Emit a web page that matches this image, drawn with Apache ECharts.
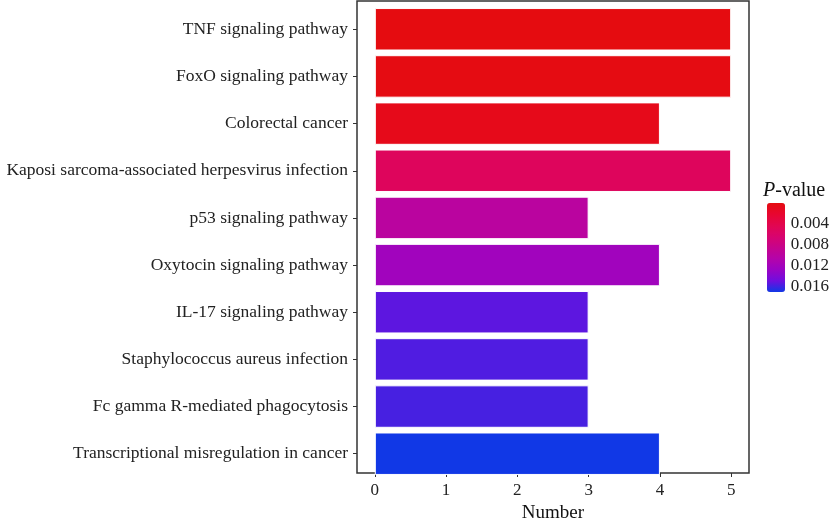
<!DOCTYPE html>
<html>
<head>
<meta charset="utf-8">
<script src="https://cdn.jsdelivr.net/npm/echarts@6/dist/echarts.min.js"></script>
<style>
  html, body { margin: 0; padding: 0; background: #fff; }
  #chart { width: 832px; height: 528px; }
</style>
</head>
<body>
<div id="chart"></div>
<script>
// pathways, top to bottom
const categories = [
  'TNF signaling pathway',
  'FoxO signaling pathway',
  'Colorectal cancer',
  'Kaposi sarcoma-associated herpesvirus infection',
  'p53 signaling pathway',
  'Oxytocin signaling pathway',
  'IL-17 signaling pathway',
  'Staphylococcus aureus infection',
  'Fc gamma R-mediated phagocytosis',
  'Transcriptional misregulation in cancer'
]
const counts = [5, 5, 4, 5, 3, 4, 3, 3, 3, 4]
const pValues = [0.00005, 0.0002, 0.0007, 0.0051, 0.0099, 0.0122, 0.0153, 0.0156, 0.0158, 0.0170]
const xTicks = [0, 1, 2, 3, 4, 5]
const legendTicks = [0.004, 0.008, 0.012, 0.016]

const pMin = Math.min(...pValues)
const pMax = Math.max(...pValues)
const font = 'Liberation Serif'
// red -> blue (like ggplot's Lab gradient)
const gradient = ['#E50C10', '#E80630', '#E20650', '#D8046E', '#C6048C', '#B404AA', '#9A04C4', '#700EDE', '#1138E6']

const chart = echarts.init(document.getElementById('chart'))

const data = counts.map((c, i) => [c, categories[i], pValues[i]])

let option = {
  animation: false,
  textStyle: { fontFamily: font },
  title: {
    text: '{i|P}-value',
    left: 763,
    top: 181,
    padding: 0,
    textStyle: {
      fontFamily: font,
      fontSize: 20,
      fontWeight: 'normal',
      color: '#111',
      rich: {
        i: { fontFamily: font, fontSize: 20, fontStyle: 'italic', color: '#111' }
      }
    }
  },
  grid: [
    // bars area (band expanded like ggplot)
    { left: 357, right: 83, top: 5.7, bottom: 50.7 },
    // panel frame
    { left: 357, right: 83, top: 1, bottom: 46, show: true, borderColor: '#333', borderWidth: 1.5, backgroundColor: 'transparent' },
    // colorbar axis
    { left: 767, top: 203, width: 18, height: 89 }
  ],
  xAxis: [
    { gridIndex: 0, type: 'value', min: -0.25, max: 5.25, show: false },
    {
      gridIndex: 1, type: 'value', min: -0.25, max: 5.25,
      name: 'Number', nameLocation: 'middle', nameGap: 31,
      nameTextStyle: { fontFamily: font, fontSize: 19, color: '#111' },
      axisLine: { show: false },
      splitLine: { show: false },
      axisTick: { show: true, length: 4, lineStyle: { color: '#333', width: 1 }, customValues: xTicks },
      axisLabel: { fontFamily: font, fontSize: 17, color: '#222', margin: 9, customValues: xTicks }
    },
    { gridIndex: 2, type: 'value', show: false }
  ],
  yAxis: [
    {
      gridIndex: 0, type: 'category', data: categories, inverse: true,
      axisLine: { show: false, onZero: false },
      axisTick: { show: true, alignWithLabel: true, length: 4, lineStyle: { color: '#333', width: 1 } },
      axisLabel: { fontFamily: font, fontSize: 17.5, color: '#222', margin: 9 }
    },
    { gridIndex: 1, type: 'value', show: false },
    {
      gridIndex: 2, type: 'value', min: pMin, max: pMax, inverse: true, position: 'right',
      axisLine: { show: false, onZero: false },
      splitLine: { show: false },
      axisTick: { show: true, inside: true, length: 3, lineStyle: { color: '#fff', width: 1 }, customValues: legendTicks },
      axisLabel: { fontFamily: font, fontSize: 17, color: '#222', margin: 7, customValues: legendTicks, formatter: v => v.toFixed(3) }
    },
    {
      gridIndex: 2, type: 'value', min: pMin, max: pMax, inverse: true, position: 'left',
      axisLine: { show: false, onZero: false },
      splitLine: { show: false },
      axisTick: { show: true, inside: true, length: 3, lineStyle: { color: '#fff', width: 1 }, customValues: legendTicks },
      axisLabel: { show: false }
    }
  ],
  visualMap: {
    type: 'continuous',
    seriesIndex: 0,
    dimension: 2,
    min: pMin,
    max: pMax,
    inverse: true,
    calculable: false,
    hoverLink: false,
    left: 767,
    top: 203,
    padding: 0,
    itemWidth: 18,
    itemHeight: 89,
    text: null,
    showLabel: false,
    inRange: { color: gradient }
  },
  series: [
    {
      type: 'bar',
      xAxisIndex: 0,
      yAxisIndex: 0,
      data: data,
      encode: { x: 0, y: 1 },
      barWidth: '90%',
      itemStyle: { borderColor: '#fff', borderWidth: 1 }
    }
  ]
}

chart.setOption(option)
</script>
</body>
</html>
